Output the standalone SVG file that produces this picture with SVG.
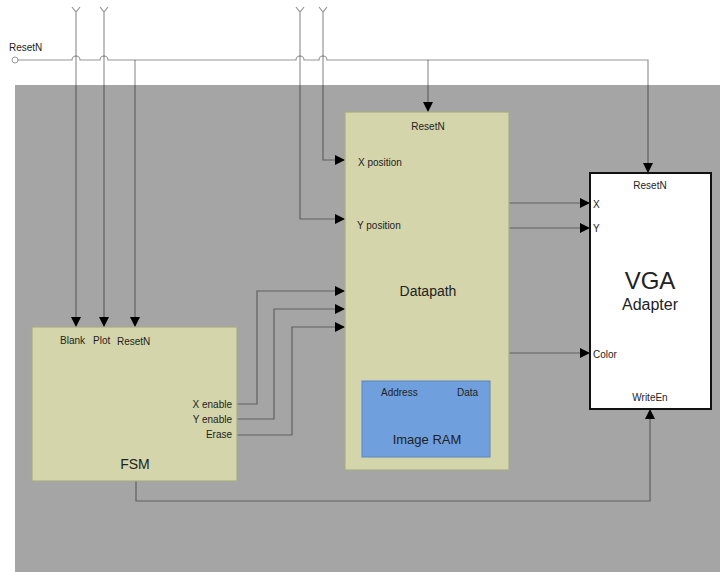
<svg xmlns="http://www.w3.org/2000/svg" width="720" height="572" viewBox="0 0 720 572">
<defs>
<style>
.t{font-family:"Liberation Sans",Arial,sans-serif;fill:#222}
.s{font-size:10px}
.w{fill:none;stroke:#000;stroke-opacity:0.42;stroke-width:1.2}
.blk{fill:#d4d5aa;stroke:#a9ad86;stroke-width:1.2}
</style>
<marker id="ah" markerUnits="userSpaceOnUse" markerWidth="10" markerHeight="10" refX="10" refY="5" orient="auto">
<path d="M0,0 L10,5 L0,10 z" fill="#000"/>
</marker>
</defs>
<rect width="720" height="572" fill="#fff"/>
<rect x="15" y="85" width="705" height="487" fill="#a5a5a5"/>
<text class="t s" x="9" y="51">ResetN</text>
<g id="connectors">
<circle cx="15" cy="60" r="3" fill="#fff" stroke="#999"/>
<path class="w" d="M18,60 H72 a4,4 0 0 1 8,0 H100 a4,4 0 0 1 8,0 H296 a4,4 0 0 1 8,0 H319 a4,4 0 0 1 8,0 H648 V173" marker-end="url(#ah)"/>
<path class="w" d="M135,60 V327" marker-end="url(#ah)"/>
<path class="w" d="M428,60 V112" marker-end="url(#ah)"/>
<path class="w" d="M72,7 L76,12 L80,7 M76,12 V327" marker-end="url(#ah)"/>
<path class="w" d="M100,7 L104,12 L108,7 M104,12 V327" marker-end="url(#ah)"/>
<path class="w" d="M296,7 L300,12 L304,7 M300,12 V219 H345" marker-end="url(#ah)"/>
<path class="w" d="M319,7 L323,12 L327,7 M323,12 V160 H345" marker-end="url(#ah)"/>
<path class="w" d="M237,404 H257 V291 H345" marker-end="url(#ah)"/>
<path class="w" d="M237,419 H274 V309 H345" marker-end="url(#ah)"/>
<path class="w" d="M237,435 H292 V327 H345" marker-end="url(#ah)"/>
<path class="w" d="M509,203 H590" marker-end="url(#ah)"/>
<path class="w" d="M509,228 H590" marker-end="url(#ah)"/>
<path class="w" d="M509,353 H590" marker-end="url(#ah)"/>
<path class="w" d="M136,481 V501 H650 V409" marker-end="url(#ah)"/>
</g>
<g id="fsm">
<rect class="blk" x="32" y="327" width="205" height="154"/>
<text class="t s" x="60" y="344">Blank</text>
<text class="t s" x="93" y="344">Plot</text>
<text class="t s" x="117" y="345">ResetN</text>
<text class="t s" x="232" y="408" text-anchor="end">X enable</text>
<text class="t s" x="232" y="423" text-anchor="end">Y enable</text>
<text class="t s" x="232" y="438" text-anchor="end">Erase</text>
<text class="t" x="135" y="469" font-size="14" text-anchor="middle">FSM</text>
</g>
<g id="datapath">
<rect class="blk" x="345" y="112" width="164" height="358"/>
<text class="t s" x="428" y="130" text-anchor="middle">ResetN</text>
<text class="t s" x="358" y="166">X position</text>
<text class="t s" x="357" y="229">Y position</text>
<text class="t" x="428" y="296" font-size="14" text-anchor="middle">Datapath</text>
</g>
<g id="image-ram">
<rect x="362" y="381" width="128" height="76" fill="#6f9fdc" stroke="#5a86c0"/>
<text class="t s" x="381" y="396">Address</text>
<text class="t s" x="457" y="396">Data</text>
<text class="t" x="427" y="444" font-size="13" text-anchor="middle">Image RAM</text>
</g>
<g id="vga">
<rect x="590" y="173" width="121" height="236" fill="#fff" stroke="#111" stroke-width="2"/>
<text class="t s" x="650" y="189" text-anchor="middle">ResetN</text>
<text class="t s" x="593" y="208">X</text>
<text class="t s" x="593" y="232">Y</text>
<text class="t" x="650" y="289" font-size="24" text-anchor="middle">VGA</text>
<text class="t" x="650" y="310" font-size="16" text-anchor="middle">Adapter</text>
<text class="t s" x="593" y="358">Color</text>
<text class="t s" x="650" y="401" text-anchor="middle">WriteEn</text>
</g>
</svg>
